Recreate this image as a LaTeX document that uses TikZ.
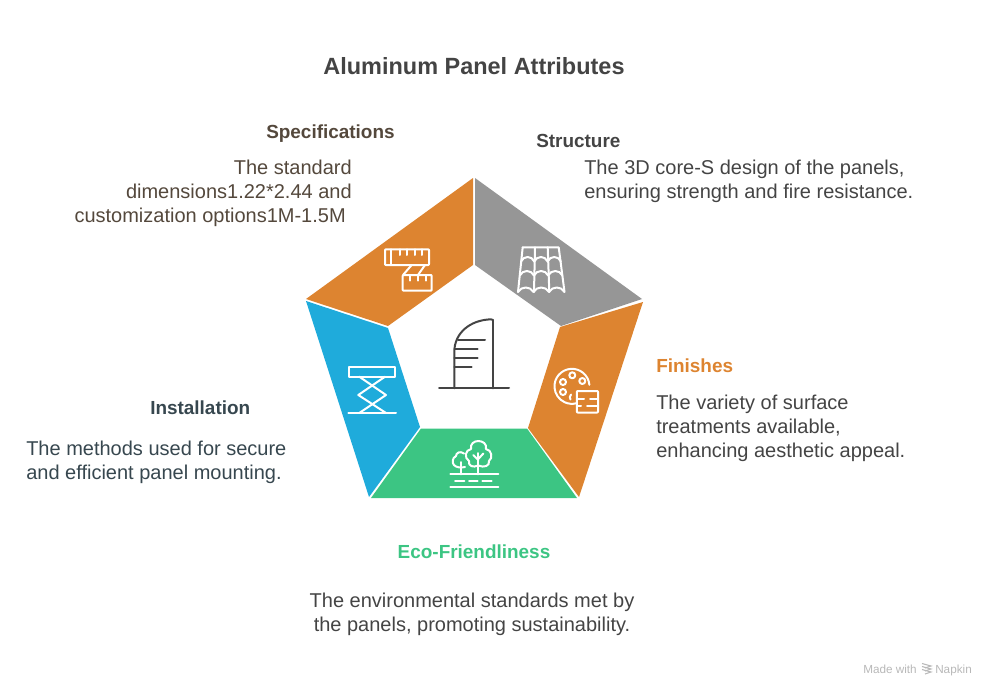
\documentclass[tikz,border=0pt]{standalone}
\usepackage{fontspec}
\setmainfont{Liberation Sans}
\definecolor{panelOrange}{HTML}{DD8430}
\definecolor{panelGray}{HTML}{969696}
\definecolor{panelBlue}{HTML}{1FABDB}
\definecolor{panelGreen}{HTML}{3CC583}
\definecolor{inkDark}{HTML}{444444}
\definecolor{inkBrown}{HTML}{54483C}
\definecolor{inkSlate}{HTML}{37474F}
\tikzset{
    heading/.style={inner sep=0pt, font=\fontsize{14.2}{18}\selectfont\bfseries},
    body/.style={inner sep=0pt, font=\fontsize{15}{18}\selectfont, text=inkDark},
    icon/.style={white, line width=1.5pt, line cap=round, line join=round},
    darkicon/.style={inkDark, line width=1.5pt, line cap=round, line join=round},
}
\begin{document}
\begin{tikzpicture}[x=0.75pt, y=-0.75pt]
\useasboundingbox (0,0) rectangle (996,696);

\node[inner sep=0pt, font=\fontsize{17.6}{22}\selectfont\bfseries, text=inkDark] (title) at (474,66) {Aluminum Panel Attributes};

% five segments
\fill[panelOrange] (473,178) -- (473,265) -- (388,326) -- (306,299) -- cycle;
\fill[panelGray] (475,178) -- (642,299) -- (561,326) -- (475,265) -- cycle;
\fill[panelOrange] (643,302) -- (579,497) -- (528,428) -- (560,327) -- cycle;
\fill[panelGreen] (527,428.5) -- (577,498) -- (371,498) -- (421,428.5) -- cycle;
\fill[panelBlue] (306,301) -- (388,328) -- (420,427) -- (369,497) -- cycle;

% ruler
\draw[icon, rounded corners=0.6pt] (385,249.3) rectangle (429,265);
\draw[icon] (390.7,249.3) -- (390.7,265);
\foreach \x in {400,407.3,415,422.3}
    \draw[icon] (\x,249.3) -- (\x,255);
\draw[icon, rounded corners=0.6pt] (402.7,275) rectangle (431.7,290.7);
\foreach \x in {410,418.3,426}
    \draw[icon] (\x,275) -- (\x,280.7);
\draw[icon] (411.7,265) -- (403,275);
\draw[icon] (425,265) -- (418,275);

% roof
\draw[icon] (522.7,247.3) -- (558.7,247.3) -- (564.5,292);
\draw[icon] (522.7,247.3) -- (518,292);
\draw[icon] (535,247.3) -- (534,292);
\draw[icon] (547.7,247.3) -- (549.3,292);
\foreach \y/\l/\w in {261.5/521/13.3,275.5/519.8/14.2,292/518/15.5}
    \foreach \i in {0,1,2}
        \draw[icon] (\l+\i*\w,\y) .. controls (\l+\i*\w+0.2*\w,\y-6) and (\l+\i*\w+0.8*\w,\y-6) .. (\l+\i*\w+\w,\y);

% palette
\draw[icon] (589.4,384.8) arc (-5:-284:17.5);
\foreach \x/\y in {563/382,572.3/375.3,582.3/381,563/392}
    \draw[icon] (\x,\y) circle (3);
\draw[icon] (571,394.5) .. controls (569.5,396) and (569.5,398) .. (570.5,399.5);
\draw[icon, rounded corners=0.6pt] (576.8,391) rectangle (598,412.5);
\draw[icon] (576.8,398.5) -- (584,398.5);
\draw[icon] (590,398.5) -- (598,398.5);
\draw[icon] (576.8,405.5) -- (581,405.5);
\draw[icon] (587,405.5) -- (598,405.5);

% trees
\draw[icon] (450.3,474.3) -- (498.3,474.3);
\draw[icon] (450.3,486.7) -- (498.3,486.7);
\foreach \a/\b in {455/464.3,469/477.7,482.3/491.7}
    \draw[icon] (\a,480.7) -- (\b,480.7);
\draw[icon] (478.3,474.3) -- (478.3,453);
\draw[icon] (478.3,460) -- (473.3,455);
\draw[icon] (478.3,459) -- (483.3,453.5);
\draw[icon] (461,474.3) -- (461,462);
\draw[icon] (478.3,465.5) .. controls (473,468) and (468,466) .. (469,461) .. controls (464,458) and (465,450) .. (471,449) .. controls (470,444) and (474,441) .. (478.3,441) .. controls (483,441) and (487,444) .. (486,449) .. controls (492,450) and (493,458) .. (489,461) .. controls (490,466) and (484,468) .. (478.3,465.5);
\draw[icon] (464,453.5) .. controls (460,450.5) and (456,453) .. (456,456) .. controls (452,458) and (452,463) .. (454,465) .. controls (456,467.5) and (461,468) .. (465,467);

% scissor lift
\draw[icon] (349,366.7) rectangle (395.3,376.7);
\draw[icon] (348.3,413) -- (396,413);
\draw[icon] (359.3,376.7) -- (386,395) -- (359.3,413);
\draw[icon] (385,376.7) -- (358.3,395) -- (386,413);

% centre building
\draw[darkicon] (439,388.3) -- (509,388.3);
\draw[darkicon] (493,388.3) -- (493,320);
\draw[darkicon] (454.3,388.3) -- (454.3,352) .. controls (454.3,333) and (470,320) .. (491,319.3) -- (493,320);
\draw[darkicon] (458,340.3) -- (485,340.3);
\draw[darkicon] (455,349.3) -- (477.7,349.3);
\draw[darkicon] (454.3,358.3) -- (477.7,358.3);
\draw[darkicon] (454.3,367.3) -- (471.7,367.3);

% labels
\node[heading, text=inkBrown, anchor=west] (specHead) at (266,134) {Specifications};
\node[body, text=inkBrown, anchor=north east, align=right] (specText) at (352,160) {The standard\\dimensions1.22*2.44 and\\customization options1M-1.5M\hspace*{4.5pt}};
\node[heading, text=inkDark, anchor=west] (structHead) at (536,141) {Structure};
\node[body, anchor=north west, align=left] (structText) at (584,160) {The 3D core-S design of the panels,\\ensuring strength and fire resistance.};
\node[heading, text=panelOrange, anchor=west] (finHead) at (656,366) {Finishes};
\node[body, anchor=north west, align=left] (finText) at (656,395) {The variety of surface\\treatments available,\\enhancing aesthetic appeal.};
\node[heading, text=inkSlate, anchor=west] (instHead) at (150,408) {Installation};
\node[body, text=inkSlate, anchor=north west, align=left] (instText) at (26,441) {The methods used for secure\\and efficient panel mounting.};
\node[heading, text=panelGreen] (ecoHead) at (474,552) {Eco-Friendliness};
\node[body, anchor=north, align=center] (ecoText) at (472,593) {The environmental standards met by\\the panels, promoting sustainability.};

% watermark
\node[inner sep=0pt, anchor=west, font=\fontsize{8.8}{10}\selectfont, text=black!28] (madeWith) at (863,669) {Made with};
\node[inner sep=0pt, anchor=west, font=\fontsize{8.8}{10}\selectfont, text=black!28] (napkin) at (935,670) {Napkin};
\foreach \d in {0,3,6}
    \draw[black!28, line width=0.8pt] (922,663.5+\d) -- (931,666+\d) -- (925,668+\d);
\end{tikzpicture}
\end{document}
